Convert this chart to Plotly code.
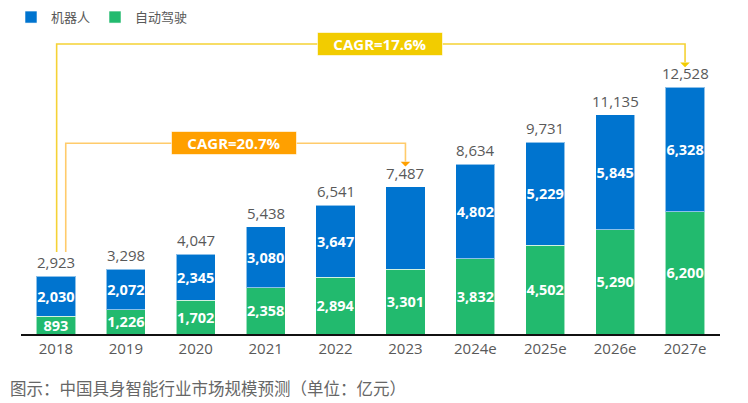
import plotly.graph_objects as go

categories = ['2018', '2019', '2020', '2021', '2022', '2023', '2024e', '2025e', '2026e', '2027e']
robot = [2030, 2072, 2345, 3080, 3647, 4186, 4802, 5229, 5845, 6328]
auto_drive = [893, 1226, 1702, 2358, 2894, 3301, 3832, 4502, 5290, 6200]
totals = [2923, 3298, 4047, 5438, 6541, 7487, 8634, 9731, 11135, 12528]
robot_label_hidden = ['2023']
cagr_items = [
    # (text, start category, end category, box color, line color, arrow color)
    ('CAGR=20.7%', '2018', '2023', '#FFA000', '#FFCB6B', '#FFA000'),
    ('CAGR=17.6%', '2018', '2027e', '#F2CC00', '#F5D235', '#F2CC00'),
]
caption = '图示：中国具身智能行业市场规模预测（单位：亿元）'

BLUE = '#0074CF'
GREEN = '#22BA6E'
GRAY = '#595959'
FONT = 'Open Sans, Noto Sans CJK SC, sans-serif'

def fmt(v):
    return f'{v:,}'

xpos = list(range(len(categories)))
robot_text = ['' if c in robot_label_hidden else fmt(v) for c, v in zip(categories, robot)]
auto_text = [fmt(v) for v in auto_drive]

fig = go.Figure()
fig.add_trace(go.Bar(
    x=xpos, y=auto_drive, name='自动驾驶',
    marker=dict(color=GREEN, line=dict(color='rgba(255,255,255,0.55)', width=1)),
    text=auto_text, textposition='inside', insidetextanchor='middle',
    textangle=0, constraintext='none',
    textfont=dict(color='white', size=14.5, family=FONT, weight='bold'),
    legendrank=2,
))
fig.add_trace(go.Bar(
    x=xpos, y=robot, name='机器人',
    marker=dict(color=BLUE, line=dict(color='rgba(255,255,255,0.55)', width=1)),
    text=robot_text, textposition='inside', insidetextanchor='middle',
    textangle=0, constraintext='none',
    textfont=dict(color='white', size=14.5, family=FONT, weight='bold'),
    legendrank=1,
))

annotations = []
for i, t in zip(xpos, totals):
    annotations.append(dict(
        x=i, y=t, xref='x', yref='y', text=fmt(t), showarrow=False,
        yanchor='bottom', yshift=2,
        font=dict(size=15, color=GRAY, family=FONT),
    ))

shapes = []
idx = {c: i for i, c in enumerate(categories)}
# connector geometry in data units relative to totals
START_GAP = 1240
TIP_GAP = 1020
LEVEL_GAP = 2200
left_offsets = [0.14, 0.01]
box_pos = [2.55, 4.64]
for (text, c0, c1, boxc, linec, arrc), lo, bx in zip(cagr_items, left_offsets, box_pos):
    i0, i1 = idx[c0], idx[c1]
    t0, t1 = totals[i0], totals[i1]
    level = t1 + LEVEL_GAP
    x0 = i0 + lo
    shapes.append(dict(
        type='path', xref='x', yref='y',
        path=f'M {x0},{t0 + START_GAP} L {x0},{level} L {i1},{level} L {i1},{t1 + TIP_GAP + 250}',
        line=dict(color=linec, width=1.6), layer='above',
    ))
    annotations.append(dict(
        x=i1, y=t1 + TIP_GAP, xref='x', yref='y',
        ax=i1, ay=t1 + TIP_GAP + 300, axref='x', ayref='y',
        text='', showarrow=True, arrowhead=1, arrowsize=1.0, arrowwidth=1.6,
        arrowcolor=arrc, standoff=0,
    ))
    annotations.append(dict(
        x=bx, y=level, xref='x', yref='y', text=f'<b>{text}</b>', showarrow=False,
        bgcolor=boxc, width=124, height=22, borderpad=0, borderwidth=1,
        bordercolor='rgba(255,255,255,0.6)',
        font=dict(size=15, color='white', family=FONT),
        xanchor='center', yanchor='middle',
    ))

annotations.append(dict(
    x=-0.0186, y=-0.172, xref='paper', yref='paper', text=caption, showarrow=False,
    xanchor='left', yanchor='middle',
    font=dict(size=16.5, color='#666666', family=FONT),
))

fig.update_layout(
    width=740, height=395,
    margin=dict(l=13, r=27.5, t=12, b=69, autoexpand=False),
    barmode='stack', bargap=0.44,
    plot_bgcolor='white', paper_bgcolor='white',
    font=dict(family=FONT, color=GRAY),
    xaxis=dict(type='linear', range=[-0.5, len(categories) - 0.5],
               tickmode='array', tickvals=xpos, ticktext=categories,
               showline=True, linecolor='#111111', linewidth=1.5, ticks='',
               tickfont=dict(size=15, color=GRAY), showgrid=False, zeroline=False),
    yaxis=dict(visible=False, range=[0, 15950], showgrid=False, zeroline=False),
    legend=dict(orientation='h', xref='paper', yref='paper', x=-0.0143, y=1.057,
                xanchor='left', yanchor='top', font=dict(size=13, color=GRAY),
                bgcolor='rgba(0,0,0,0)', traceorder='normal', itemwidth=30),
    annotations=annotations, shapes=shapes,
)

fig.write_html('out.html')
